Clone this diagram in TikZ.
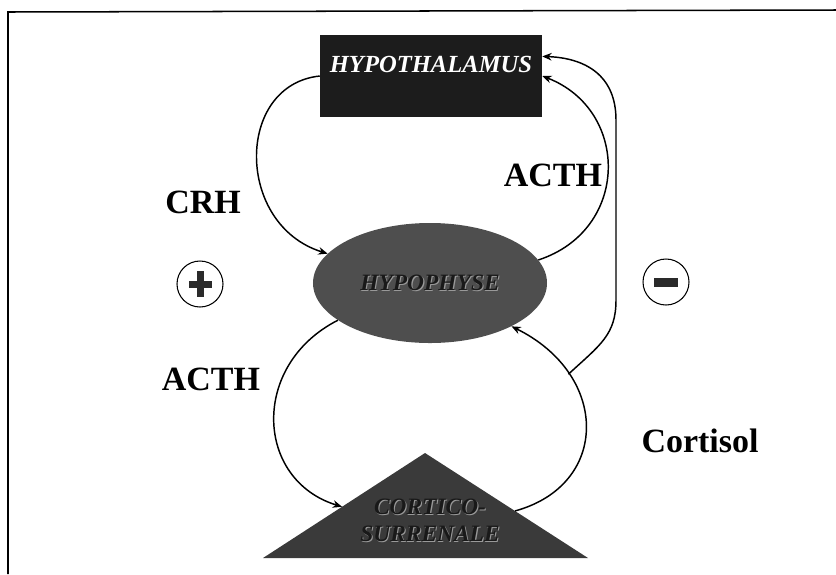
\documentclass[tikz,border=0pt]{standalone}
\usepackage{fontspec}
\setmainfont{Liberation Serif}
\usetikzlibrary{arrows.meta,shapes.geometric,calc}
\definecolor{hthfill}{HTML}{1C1C1C}
\definecolor{hypfill}{HTML}{4E4E4E}
\definecolor{trifill}{HTML}{3A3A3A}
\definecolor{signcol}{HTML}{2A2A2A}
\newcommand\embtext[1]{\leavevmode\rlap{\kern0.9pt\raisebox{-0.9pt}{\color{black!40}#1}}{\color{black!90}#1}}
\begin{document}
\begin{tikzpicture}[x=0.03cm,y=-0.03cm,
  conn/.style={line width=1.25pt,-{Stealth[length=8pt,width=6.5pt]}},
  lbl/.style={font=\fontsize{29}{31}\selectfont\bfseries},
  organtext/.style={font=\fontsize{20}{23}\selectfont\bfseries\itshape, align=center},
  signcircle/.style={circle, draw, line width=0.9pt, minimum size=1.38cm, inner sep=0pt}]
\useasboundingbox (0,0) rectangle (836,574);
% frame
\draw[line width=1.3pt] (8,574) -- (8,12) -- (836,10);
% Hypothalamus
\node[rectangle, fill=hthfill, minimum width=6.66cm, minimum height=2.46cm, inner sep=0pt,
      text=white, font=\fontsize{21}{24}\selectfont\bfseries\itshape] (hth) at (431,76)
      {\raisebox{0.12cm}[0pt][0pt]{HYPOTHALAMUS}};
% Hypophyse
\node[ellipse, fill=hypfill, minimum width=7.02cm, minimum height=3.6cm, inner sep=0pt,
      organtext] (hyp) at (430,283) {\embtext{HYPOPHYSE}};
% Cortico-surrenale triangle
\coordinate (ta) at (425,453);
\coordinate (tl) at (263,558);
\coordinate (tr) at (588,558);
\fill[trifill] (tl) -- (ta) -- (tr) -- cycle;
\node[organtext] (cs) at (430,521) {\embtext{CORTICO-}\\\embtext{SURRENALE}};
\coordinate (tlin) at ($(tl)!0.488!(ta)$);
\coordinate (trin) at ($(tr)!0.448!(ta)$);
% signs
\node[signcircle, path picture={
   \fill[signcol] ([shift={(-11.5,-3.5)}]path picture bounding box.center) rectangle ++(23,7);
   \fill[signcol] ([shift={(-3.5,-13)}]path picture bounding box.center) rectangle ++(7,26);}]
   (plus) at (200,284) {};
\node[signcircle, path picture={
   \fill[signcol] ([shift={(-12,-4.5)}]path picture bounding box.center) rectangle ++(24,9);}]
   (minus) at (666,282) {};
% labels
\node[lbl] (crh) at (203,202) {CRH};
\node[lbl] (acth1) at (553,175) {ACTH};
\node[lbl] (acth2) at (211,379) {ACTH};
\node[lbl] (cort) at (700,441) {Cortisol};
% connectors
\draw[conn] (hth.west) .. controls (235,85) and (235,225) .. (hyp.164);
\draw[conn] (hyp.12) .. controls (630,230) and (630,110) .. (hth.east);
\draw[conn] (hyp.202) .. controls (250,365) and (255,480) .. (tlin);
\draw[conn] (trin) .. controls (610,485) and (610,375) .. (hyp.332) coordinate[pos=0.74] (br);
\draw[conn] (br) .. controls (600,345) and (616,335) .. (616,300) -- (616,120)
   .. controls (616,75) and (585,58) .. (hth.10);
\end{tikzpicture}
\end{document}
